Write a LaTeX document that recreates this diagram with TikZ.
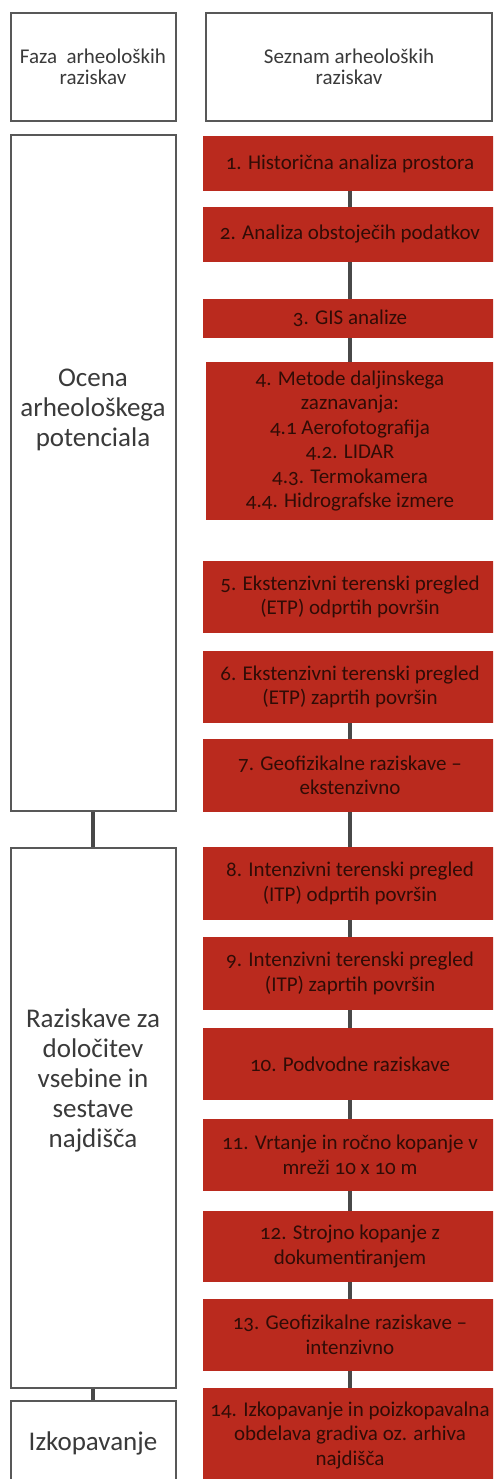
\documentclass[tikz,border=0pt]{standalone}
\usepackage{fontspec}
\setmainfont{Carlito}[Numbers=OldStyle]
\definecolor{boxred}{RGB}{186,42,30}
\definecolor{redtext}{RGB}{48,12,6}
\definecolor{edgegray}{RGB}{88,88,88}
\definecolor{linkgray}{RGB}{72,72,72}
\definecolor{phasetext}{RGB}{58,58,58}
\tikzset{
  redbox/.style={rectangle, fill=boxred, inner sep=0pt, text=redtext, align=center,
    font=\fontsize{21}{24.5}\selectfont, minimum width=294pt},
  phasebox/.style={rectangle, draw=edgegray, line width=2pt, fill=white, inner sep=0pt,
    minimum width=165pt},
  headbox/.style={rectangle, draw=edgegray, line width=2pt, fill=white, inner sep=0pt,
    text=phasetext, align=center, font=\fontsize{21}{21}\selectfont},
  phasetxt/.style={text=phasetext, align=center, font=\fontsize{27}{30}\selectfont, inner sep=0pt},
  link/.style={draw=linkgray, line width=3.5pt}
}
\begin{document}
\begin{tikzpicture}[x=1pt,y=-1pt]
\useasboundingbox (0,0) rectangle (493,1479);
\clip (0,0) rectangle (493,1479);
\fill[white] (0,0) rectangle (493,1479);
% headers
\node[headbox, minimum width=165pt, minimum height=108pt] (h1) at (93,67) {Faza\ \ arheoloških\\raziskav};
\node[headbox, minimum width=286pt, minimum height=108pt] (h2) at (349,67) {Seznam arheoloških\\raziskav};
% phase boxes
\node[phasebox, minimum height=676pt] (p1) at (93,473) {};
\node[phasebox, minimum height=540pt] (p2) at (93,1118) {};
\node[phasebox, minimum height=84pt] (p3) at (93,1443) {};
\node[phasetxt] (t1) at (93,410) {Ocena\\arheološkega\\potenciala};
\node[phasetxt] (t2) at (93,1080) {Raziskave za\\določitev\\vsebine in\\sestave\\najdišča};
\node[phasetxt] (t3) at (93,1443) {Izkopavanje};
% red boxes
\node[redbox, minimum height=55pt] (b1) at (350,163.5) {1. Historična analiza prostora};
\node[redbox, minimum height=55pt] (b2) at (350,234.5) {2. Analiza obstoječih podatkov};
\node[redbox, minimum height=39pt] (b3) at (350,318.5) {3. GIS analize};
\node[redbox, minimum height=158pt, minimum width=289pt] (b4) at (350,441) {4. Metode daljinskega\\zaznavanja:\\4.1 Aerofotografija\\4.2. LIDAR\\4.3. Termokamera\\4.4. Hidrografske izmere};
\node[redbox, minimum height=72pt] (b5) at (350,597) {5. Ekstenzivni terenski pregled\\(ETP) odprtih površin};
\node[redbox, minimum height=72pt] (b6) at (350,687) {6. Ekstenzivni terenski pregled\\(ETP) zaprtih površin};
\node[redbox, minimum height=73pt] (b7) at (350,775.5) {7. Geofizikalne raziskave –\\ekstenzivno};
\node[redbox, minimum height=73pt] (b8) at (350,883.5) {8. Intenzivni terenski pregled\\(ITP) odprtih površin};
\node[redbox, minimum height=73pt] (b9) at (350,973.5) {9. Intenzivni terenski pregled\\(ITP) zaprtih površin};
\node[redbox, minimum height=72pt] (b10) at (350,1064) {10. Podvodne raziskave};
\node[redbox, minimum height=72pt] (b11) at (350,1155) {11. Vrtanje in ročno kopanje v\\mreži 10 x 10 m};
\node[redbox, minimum height=71pt] (b12) at (350,1246.5) {12. Strojno kopanje z\\dokumentiranjem};
\node[redbox, minimum height=72pt] (b13) at (350,1335) {13. Geofizikalne raziskave –\\intenzivno};
\node[redbox, minimum height=94pt] (b14) at (350,1435) {14. Izkopavanje in poizkopavalna\\obdelava gradiva oz. arhiva\\najdišča};
% connectors
\draw[link] (b1.south) -- (b2.north);
\draw[link] (b2.south) -- (b3.north);
\draw[link] (b3.south) -- (b4.north);
\draw[link] (b6.south) -- (b7.north);
\draw[link] (b7.south) -- (b8.north);
\draw[link] (b8.south) -- (b9.north);
\draw[link] (b9.south) -- (b10.north);
\draw[link] (b10.south) -- (b11.north);
\draw[link] (b11.south) -- (b12.north);
\draw[link] (b12.south) -- (b13.north);
\draw[link] (b13.south) -- (b14.north);
\draw[link] (p1.south) -- (p2.north);
\draw[link] (p2.south) -- (p3.north);
\end{tikzpicture}
\end{document}
